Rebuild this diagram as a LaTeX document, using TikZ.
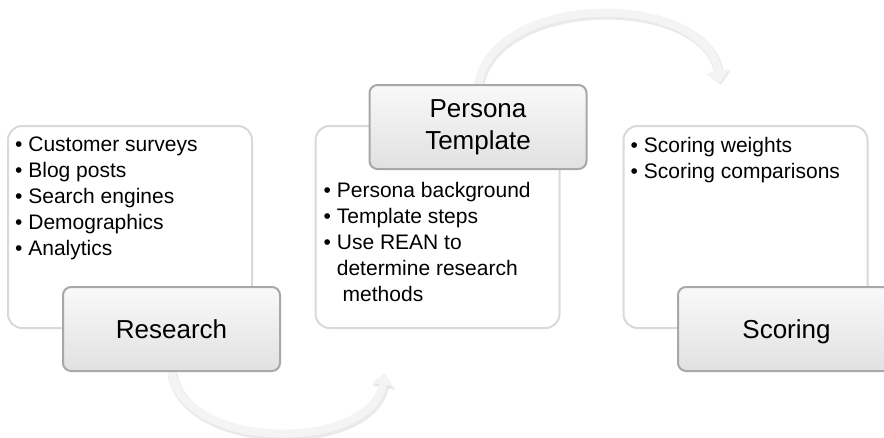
\documentclass[tikz,border=0pt]{standalone}
\usepackage{fontspec}
\setmainfont{Liberation Sans}
\usetikzlibrary{arrows.meta,positioning,backgrounds}
\definecolor{panelline}{HTML}{D9D9D9}
\definecolor{tabline}{HTML}{A8A8A8}
\definecolor{tabtop}{HTML}{F9F9F9}
\definecolor{tabbot}{HTML}{E1E1E1}
\definecolor{flow}{HTML}{F4F4F4}
\definecolor{flowshade}{HTML}{D6D6D6}

\begin{document}
\begin{tikzpicture}[x=1pt,y=-1pt,
  panel/.style={draw=panelline,line width=2pt,rounded corners=14pt,fill=white,minimum width=244pt,minimum height=202pt,inner sep=0pt},
  tab/.style={draw=tabline,line width=2pt,rounded corners=8pt,top color=tabtop,bottom color=tabbot,minimum width=217pt,minimum height=84pt,inner sep=0pt,align=center,font=\fontsize{26}{32}\selectfont},
  list/.style={anchor=north west,inner sep=0pt,align=left,font=\fontsize{21}{26}\selectfont},
  flowarc/.style={line width=8pt,flow,-{Triangle[width=21pt,length=12pt]}},
  flowshadow/.style={line width=10pt,flowshade,opacity=0.5,-{Triangle[width=23pt,length=13pt]},transform canvas={shift={(1pt,-2pt)}}}]
\useasboundingbox (0,0) rectangle (884,437);
\clip (0,0) rectangle (884,437);
\foreach \x/\n in {130/lbox,437.5/mbox,745.5/rbox}
  \node[panel] (\n) at (\x,227) {};
\node[list] (leftlist) at ([shift={(8,12)}]lbox.north west) {\textbullet\ Customer surveys\\ \textbullet\ Blog posts\\ \textbullet\ Search engines\\ \textbullet\ Demographics\\ \textbullet\ Analytics};
\node[list] (midlist) at ([shift={(9,57)}]mbox.north west) {\textbullet\ Persona background\\ \textbullet\ Template steps\\ \textbullet\ Use REAN to\\ \phantom{\textbullet\ }determine research\\ \phantom{\textbullet\ }\ methods};
\node[list] (rightlist) at ([shift={(8,12)}]rbox.north west) {\textbullet\ Scoring weights\\ \textbullet\ Scoring comparisons};
\node[tab,text depth=0pt] (research) at (171.5,329) {Research};
\node[tab] (persona) at (478,127) {Persona\\Template};
\node[tab,text depth=0pt] (scoring) at (786.5,329) {Scoring};
\coordinate (flowA) at (385,373);
\coordinate (flowB) at (720,83);
\begin{scope}[on background layer]
  \draw[flowshadow] (research.south) .. controls (185,452) and (370,452) .. (flowA);
  \draw[flowarc] (research.south) .. controls (185,452) and (370,452) .. (flowA);
  \draw[flowshadow] (persona.north) .. controls (495,-9) and (705,-9) .. (flowB);
  \draw[flowarc] (persona.north) .. controls (495,-9) and (705,-9) .. (flowB);
\end{scope}
\end{tikzpicture}
\end{document}
